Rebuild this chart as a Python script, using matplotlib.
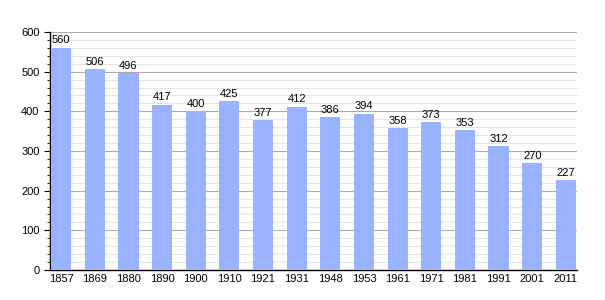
import matplotlib
matplotlib.use("Agg")
import matplotlib.pyplot as plt
from matplotlib.ticker import MultipleLocator

plt.rcParams['font.family'] = ['Liberation Sans', 'DejaVu Sans']

years = ["1857", "1869", "1880", "1890", "1900", "1910", "1921", "1931",
         "1948", "1953", "1961", "1971", "1981", "1991", "2001", "2011"]
population = [560, 506, 496, 417, 400, 425, 377, 412, 386, 394, 358, 373, 353, 312, 270, 227]

fig = plt.figure(figsize=(6.05, 3.0), dpi=100)
ax = fig.add_axes([50/605, 30/300, 527/605, 238/300])

x = list(range(len(years)))
ax.bar(x, population, width=0.6, color="#99b3ff", zorder=3)
for xi, v in zip(x, population):
    ax.text(xi, v + 6, str(v), ha="center", va="bottom", fontsize=8, color="black", zorder=4)

ax.set_xlim(-0.33, len(years) - 1 + 0.33)
ax.set_ylim(0, 600)
ax.set_xticks(x)
ax.set_xticklabels(years, fontsize=8)
ax.yaxis.set_major_locator(MultipleLocator(100))
ax.yaxis.set_minor_locator(MultipleLocator(20))
ax.tick_params(axis="y", which="major", labelsize=8, length=4, direction="out")
ax.tick_params(axis="y", which="minor", length=2, direction="out")
ax.tick_params(axis="x", length=0, pad=3)
ax.grid(axis="y", which="major", color="#aaaaaa", linewidth=0.8, zorder=0)
ax.grid(axis="y", which="minor", color="#e4e4e4", linewidth=0.8, zorder=0)
for s in ["top", "right"]:
    ax.spines[s].set_visible(False)
ax.spines["left"].set_linewidth(1.0)
ax.spines["bottom"].set_linewidth(1.0)

fig.savefig("out.png", dpi=100)
